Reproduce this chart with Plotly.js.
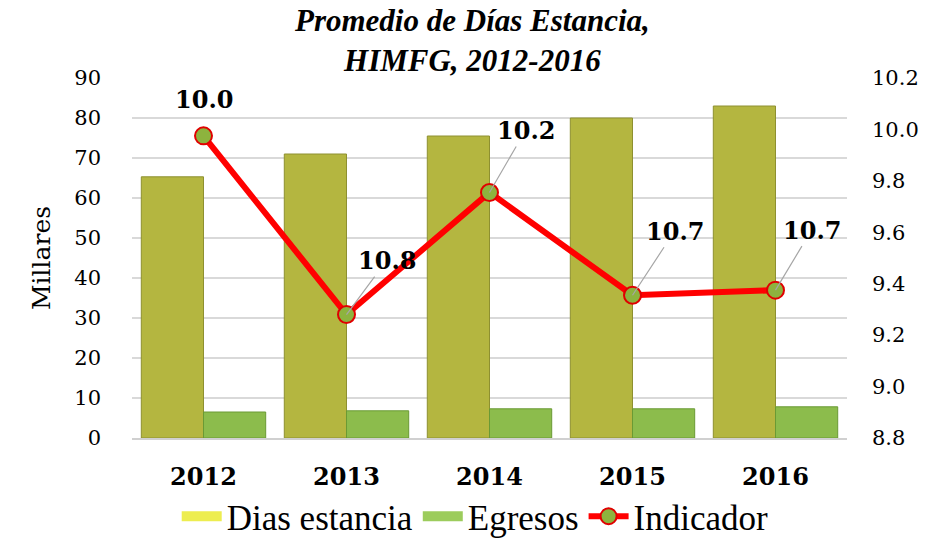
<!DOCTYPE html>
<html><head><meta charset="utf-8">
<script src="https://cdn.plot.ly/plotly-3.0.1.min.js"></script>
<style>html,body{margin:0;padding:0;background:#fff}#c{width:941px;height:546px}</style>
</head><body><div id="c"></div>
<script>
var years = ['2012','2013','2014','2015','2016'];
var diasEstancia = [65.3, 71.0, 75.5, 80.0, 83.0];
var egresos = [6.5, 6.8, 7.3, 7.3, 7.8];
var indicador = [9.975, 9.28, 9.755, 9.355, 9.375];
var indicadorLabels = ['10.0', '10.8', '10.2', '10.7', '10.7'];

var serif = 'Liberation Serif, Times New Roman, serif';
var dserif = 'DejaVu Serif, serif';
var colDias = '#b4b640', colEgr = '#8cbc4c';
var traces = [
  {type:'bar', name:'Dias estancia', x:years, y:diasEstancia, showlegend:false,
   marker:{color:colDias, line:{color:'#8e9030', width:1}}},
  {type:'bar', name:'Egresos', x:years, y:egresos, showlegend:false,
   marker:{color:colEgr, line:{color:'#6a9a34', width:1}}},
  {type:'scatter', mode:'lines+markers', name:'Indicador', x:years, y:indicador, yaxis:'y2',
   line:{color:'#ff0000', width:6}, legendrank:3,
   marker:{color:'#8db33e', size:17, line:{color:'#e00000', width:2}}},
  {type:'scatter', mode:'lines', name:'Dias estancia', x:[years[0]], y:[null], legendrank:1,
   line:{color:'#eded50', width:16}, hoverinfo:'skip'},
  {type:'scatter', mode:'lines', name:'Egresos', x:[years[0]], y:[null], legendrank:2,
   line:{color:'#9ccc5c', width:16}, hoverinfo:'skip'}
];
var offs = [[0,-36],[40,-54],[36,-62],[42,-64],[36,-60]];
var annotations = years.map(function(y,i){
  return {x:i, y:indicador[i], xref:'x', yref:'y2', text:'<b>'+indicadorLabels[i]+'</b>',
    showarrow:true, arrowhead:0, arrowwidth:1.2, arrowcolor:'#a6a6a6',
    ax:offs[i][0], ay:offs[i][1], standoff:0,
    font:{family:dserif, size:24, color:'#000'}};
});
annotations[0].showarrow = false;
annotations[0].yshift = 36;
annotations.push({xref:'paper', yref:'paper', x:0.475, y:1, yanchor:'bottom', yshift:-2, showarrow:false,
  text:'<b><i>Promedio de Días Estancia,<br>HIMFG, 2012-2016</i></b>',
  font:{family:serif, size:31, color:'#000'}});
var layout = {
  width:941, height:546,
  margin:{l:132, r:94, t:78, b:108},
  paper_bgcolor:'#fff', plot_bgcolor:'#fff',
  barmode:'group', bargap:0.13, bargroupgap:0,
  xaxis:{type:'category', showgrid:false, showline:true, linecolor:'#d0d0d0', linewidth:2,
    tickfont:{family:dserif, size:24, color:'#000', weight:'bold'}, ticks:'', ticklabelstandoff:16},
  yaxis:{range:[0,90], dtick:10, showgrid:true, gridcolor:'#d9d9d9', gridwidth:2, zeroline:false,
    tickfont:{family:dserif, size:21, color:'#000'}, ticks:'', ticklabelstandoff:30,
    title:{text:'Millares', font:{family:dserif, size:25, color:'#000'}, standoff:16}},
  yaxis2:{overlaying:'y', side:'right', range:[8.8,10.2], dtick:0.2, tickformat:'.1f', showgrid:false, zeroline:false,
    tickfont:{family:dserif, size:21, color:'#000'}, ticks:'', ticklabelstandoff:24},
  legend:{orientation:'h', x:0.48, xanchor:'center', yref:'container', y:0.0, yanchor:'bottom',
    font:{family:serif, size:35, color:'#000'}, itemwidth:40, tracegroupgap:0, traceorder:'normal'},
  annotations:annotations
};
Plotly.newPlot('c', traces, layout, {displayModeBar:false, staticPlot:true});
</script></body></html>
